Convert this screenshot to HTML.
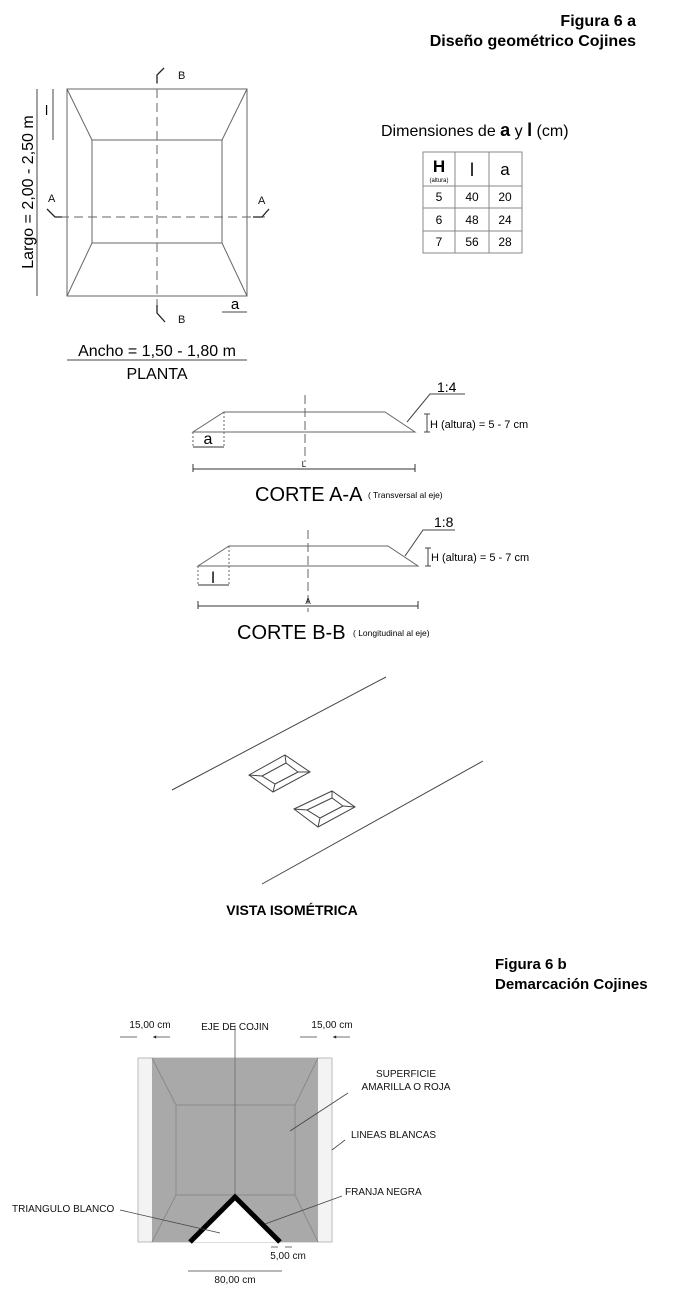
<!DOCTYPE html>
<html><head><meta charset="utf-8"><style>
html,body{margin:0;padding:0;background:#fff}
svg{display:block;font-family:"Liberation Sans",Arial,sans-serif}
</style></head><body>
<svg width="700" height="1292" viewBox="0 0 700 1292" xmlns="http://www.w3.org/2000/svg">
<defs>
<marker id="ar" viewBox="0 0 10 10" refX="10" refY="5" markerWidth="6" markerHeight="4" orient="auto-start-reverse"><path d="M0,0L10,5L0,10z" fill="#222"/></marker>
</defs>
<g font-weight="bold" fill="#000">
<text x="636" y="26" font-size="16" text-anchor="end">Figura 6 a</text>
<text x="636" y="46" font-size="16" text-anchor="end">Diseño geométrico Cojines</text>
</g>
<!-- PLANTA -->
<g stroke="#666" stroke-width="1" fill="none">
<rect x="67" y="89" width="180" height="207"/>
<rect x="92" y="140" width="130" height="103"/>
<path d="M67,89L92,140M247,89L222,140M67,296L92,243M247,296L222,243"/>
<path d="M157,75V310M60,217H265" stroke-dasharray="9,5"/>
<path d="M157,83V75L164,68M157,305V313L165,322M47,209L55,217H62M253,217H262L269,209" stroke="#222" stroke-width="1.3"/>
<path d="M37,89V296M53,89V140M222,312H247M67,360H247" stroke="#444"/>
</g>
<g fill="#111" font-size="11">
<text x="178" y="79">B</text><text x="178" y="323">B</text>
<text x="48" y="202">A</text><text x="258" y="204">A</text>
</g>
<text x="0" y="0" font-size="16" text-anchor="middle" transform="translate(33,192) rotate(-90)">Largo = 2,00 - 2,50 m</text>
<text x="45" y="115" font-size="14">l</text>
<text x="235" y="309" font-size="15" text-anchor="middle">a</text>
<text x="157" y="356" font-size="16" text-anchor="middle">Ancho = 1,50 - 1,80 m</text>
<text x="157" y="379" font-size="16" text-anchor="middle">PLANTA</text>
<!-- Table -->
<text x="381" y="136" font-size="16">Dimensiones de <tspan font-weight="bold" font-size="18">a</tspan> y <tspan font-weight="bold" font-size="18">l</tspan> (cm)</text>
<g stroke="#888" fill="none"><rect x="423" y="152" width="99" height="101"/>
<path d="M455,152V253M489,152V253M423,186H522M423,208H522M423,231H522"/></g>
<g font-size="12" text-anchor="middle">
<text x="439" y="172" font-size="17" font-weight="bold">H</text><text x="439" y="182" font-size="6">(altura)</text>
<text x="472" y="176" font-size="18">l</text><text x="505" y="175" font-size="17">a</text>
<text x="439" y="201">5</text><text x="472" y="201">40</text><text x="505" y="201">20</text>
<text x="439" y="224">6</text><text x="472" y="224">48</text><text x="505" y="224">24</text>
<text x="439" y="246">7</text><text x="472" y="246">56</text><text x="505" y="246">28</text>
</g>
<!-- Corte A-A -->
<g stroke="#666" fill="none">
<path d="M193,432H415L385,412H224Z"/>
<path d="M224,412V447M193,432V447" stroke-dasharray="2,2"/>
<path d="M305,395V462" stroke-dasharray="9,4"/>
<path d="M193,447H224M193,469H415M193,464V472M415,464V472" stroke="#333"/>
<path d="M407,422L430,394H465M427,414V432M424,414H430M424,432H430" stroke="#444"/>
</g>
<text x="208" y="444" font-size="16" text-anchor="middle">a</text>
<text x="304" y="467" font-size="8" text-anchor="middle">L</text>
<text x="437" y="392" font-size="14">1:4</text>
<text x="430" y="428" font-size="11">H (altura) = 5 - 7 cm</text>
<text x="255" y="501" font-size="20">CORTE A-A</text>
<text x="368" y="498" font-size="8.5">( Transversal al eje)</text>
<!-- Corte B-B -->
<g stroke="#666" fill="none">
<path d="M198,566H418L388,546H229Z"/>
<path d="M229,546V585M198,566V585" stroke-dasharray="2,2"/>
<path d="M308,530V612" stroke-dasharray="9,4"/>
<path d="M198,585H229M198,606H418M198,601V609M418,601V609" stroke="#333"/>
<path d="M405,556L423,530H455M428,548V566M425,548H431M425,566H431" stroke="#444"/>
</g>
<text x="213" y="583" font-size="16" text-anchor="middle">l</text>
<text x="308" y="604" font-size="8" text-anchor="middle">A</text>
<text x="434" y="527" font-size="14">1:8</text>
<text x="431" y="561" font-size="11">H (altura) = 5 - 7 cm</text>
<text x="237" y="639" font-size="20">CORTE B-B</text>
<text x="353" y="636" font-size="8.5">( Longitudinal al eje)</text>
<!-- Isometric -->
<g stroke="#444" fill="none">
<path d="M172,790L386,677M262,884L483,761"/>
<path d="M249,775L285,755L310,772L273,792Z"/>
<path d="M262,776L286,763L298,772L275,784Z"/>
<path d="M249,775L262,776M285,755L286,763M310,772L298,772M273,792L275,784"/>
<path d="M294,809L332,791L355,807L318,827Z"/>
<path d="M307,810L332,798L343,806L320,818Z"/>
<path d="M294,809L307,810M332,791L332,798M355,807L343,806M318,827L320,818"/>
</g>
<text x="292" y="915" font-size="14" font-weight="bold" text-anchor="middle">VISTA ISOMÉTRICA</text>
<!-- Figura 6 b -->
<text x="495" y="969" font-size="15" font-weight="bold">Figura 6 b</text>
<text x="495" y="989" font-size="15" font-weight="bold">Demarcación Cojines</text>
<rect x="138" y="1058" width="194" height="184" fill="#f3f3f3" stroke="#bbb"/>
<rect x="152" y="1058" width="166" height="184" fill="#a9a9a9"/>
<g stroke="#8a8a8a" fill="none">
<rect x="176" y="1105" width="119" height="90"/>
<path d="M152,1058L176,1105M318,1058L295,1105M152,1242L176,1195M318,1242L295,1195"/>
<path d="M235,1025V1242" stroke="#777"/>
</g>
<path d="M190,1242L235,1197L280,1242Z" fill="#fff"/>
<path d="M190,1242L235,1197L280,1242" fill="none" stroke="#000" stroke-width="5"/>
<g stroke="#444" fill="none" stroke-width="0.8">
<path d="M120,1037H137M170,1037H153" marker-end="url(#ar)"/>
<path d="M300,1037H317M350,1037H333" marker-end="url(#ar)"/>
<path d="M348,1093L290,1131M345,1140L332,1150M342,1196L265,1224M120,1210L220,1233"/>
<path d="M188,1271H282M271,1247H278M292,1247H285"/>
</g>
<g font-size="10" fill="#111">
<text x="150" y="1028" text-anchor="middle">15,00 cm</text>
<text x="332" y="1028" text-anchor="middle">15,00 cm</text>
<text x="235" y="1030" text-anchor="middle">EJE DE COJIN</text>
<text x="406" y="1077" text-anchor="middle">SUPERFICIE</text>
<text x="406" y="1090" text-anchor="middle">AMARILLA O ROJA</text>
<text x="351" y="1138">LINEAS BLANCAS</text>
<text x="345" y="1195">FRANJA NEGRA</text>
<text x="12" y="1212">TRIANGULO BLANCO</text>
<text x="288" y="1259" text-anchor="middle">5,00 cm</text>
<text x="235" y="1283" text-anchor="middle">80,00 cm</text>
</g>
</svg>
</body></html>
